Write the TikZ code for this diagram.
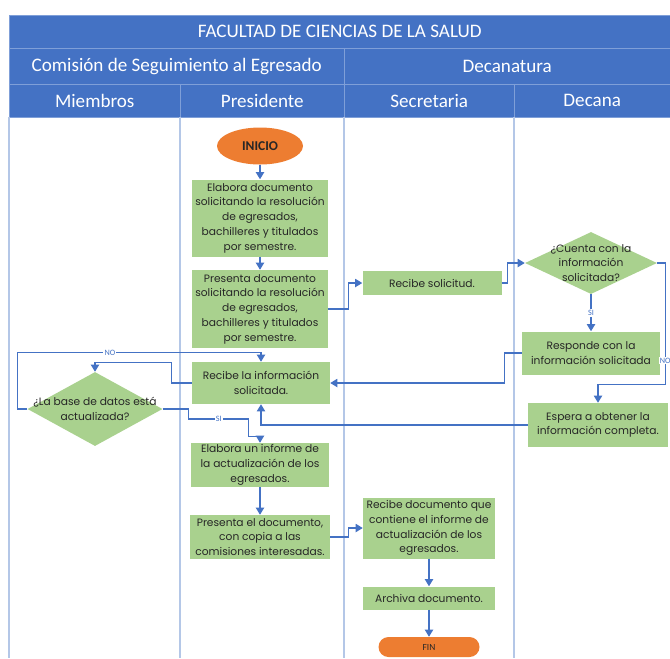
\documentclass[tikz,border=0pt]{standalone}
\usepackage{fontspec}
\setmainfont{Carlito}
\newfontfamily\cajafont{Poppins}
\usetikzlibrary{positioning, arrows.meta, shapes.geometric, calc}
\definecolor{azulcab}{HTML}{4472C4}
\definecolor{bordecab}{HTML}{7F9FD8}
\definecolor{verde}{HTML}{A9D18E}
\definecolor{naranja}{HTML}{ED7D31}
\definecolor{flecha}{HTML}{4472C4}
\definecolor{carril}{HTML}{B4C7E7}
\definecolor{texto}{HTML}{262626}
\tikzset{
cab/.style={draw=bordecab, fill=azulcab, text=white, anchor=north west, inner sep=0pt, font=\fontsize{16.3}{18}\selectfont}, % header cells
tarea/.style={fill=verde, text=texto, align=center, inner sep=1pt, font=\cajafont\fontsize{9.1}{12.6}\selectfont}, % green process boxes
decision/.style={diamond, fill=verde, inner sep=0pt}, % green decision shapes
terminal/.style={fill=naranja, text=texto, inner sep=0pt, font=\bfseries\fontsize{11.5}{12}\selectfont}, % start / end
flujo/.style={draw=flecha, line width=1pt, -{Triangle[width=7pt,length=6pt]}}, % connectors
etiqueta/.style={fill=white, text=flecha, inner sep=1pt, font=\fontsize{7}{8}\selectfont}, % SI / NO
}

\begin{document}
\begin{tikzpicture}[x=0.03cm, y=-0.03cm]
    \useasboundingbox (0,0) rectangle (670,658);
    % swimlane header
    \node[cab, minimum width=19.83cm, minimum height=0.99cm] (fac) at (9,15) {FACULTAD DE CIENCIAS DE LA SALUD};
    \node[cab, minimum width=10.05cm, minimum height=1.08cm] (com) at (9,48) {Comisión de Seguimiento al Egresado};
    \node[cab, minimum width=9.78cm, minimum height=1.08cm] (dec) at (344,48) {Decanatura};
    \node[cab, minimum width=5.13cm, minimum height=0.99cm] (mie) at (9,84) {Miembros};
    \node[cab, minimum width=4.92cm, minimum height=0.99cm] (pre) at (180,84) {Presidente};
    \node[cab, minimum width=5.10cm, minimum height=0.99cm] (sec) at (344,84) {Secretaria};
    \node[cab, minimum width=4.68cm, minimum height=0.99cm] (dca) at (514,84) {Decana};
    \foreach \x in {9,180,344,514}
        \draw[carril, line width=1pt] (\x,117) -- (\x,658);

    % steps
    \node[terminal, ellipse, minimum width=2.58cm, minimum height=1.11cm] (ini) at (260,146) {INICIO};
    \node[tarea, minimum width=4.05cm, minimum height=2.31cm] (b1) at (260,218) {Elabora documento\\solicitando la resolución\\de egresados,\\bachilleres y titulados\\por semestre.};
    \node[tarea, minimum width=4.05cm, minimum height=2.34cm] (b2) at (260,309) {Presenta documento\\solicitando la resolución\\de egresados,\\bachilleres y titulados\\por semestre.};
    \node[tarea, minimum width=4.17cm, minimum height=0.72cm] (rs) at (432,283) {Recibe solicitud.};
    \node[decision, minimum width=3.96cm, minimum height=1.86cm] (dc) at (591,263) {};
    \node[tarea, fill=none] (dct) at (dc.center) {¿Cuenta con la\\información\\solicitada?};
    \node[tarea, minimum width=4.14cm, minimum height=1.29cm] (rp) at (591,353) {Responde con la\\información solicitada};
    \node[tarea, minimum width=4.2cm, minimum height=1.32cm] (es) at (598,425) {Espera a obtener la\\información completa.};
    \node[tarea, minimum width=4.14cm, minimum height=1.26cm] (ri) at (261,383) {Recibe la información\\solicitada.};
    \node[decision, minimum width=4.05cm, minimum height=2.22cm] (dd) at (95,409) {};
    \node[tarea, fill=none] (ddt) at (dd.center) {¿La base de datos está\\actualizada?};
    \node[tarea, minimum width=4.14cm, minimum height=1.32cm] (ei) at (260,465) {Elabora un informe de\\la actualización de los\\egresados.};
    \node[tarea, minimum width=4.2cm, minimum height=1.32cm] (pd) at (260,537) {Presenta el documento,\\con copia a las\\comisiones interesadas.};
    \node[tarea, minimum width=3.96cm, minimum height=1.83cm] (rd) at (429,528) {Recibe documento que\\contiene el informe de\\actualización de los\\egresados.};
    \node[tarea, minimum width=3.96cm, minimum height=0.69cm] (ad) at (429,598) {Archiva documento.};
    \node[terminal, rounded corners=0.3cm, minimum width=3.03cm, minimum height=0.6cm, font=\fontsize{8}{9}\selectfont] (fin) at (429,647) {FIN};

    % connectors
    \draw[flujo] (ini) -- (b1);
    \draw[flujo] (b1) -- (b2);
    \draw[flujo] (b2.east) -- ++(21,0) |- (rs.west);
    \draw[flujo] (rs.east) -- ++(6,0) |- (dc.west);
    \draw[flujo] (dc.south) -- node[etiqueta]{SI} (rp.north);
    \draw[flujo] (dc.east) -- ++(8,0) |- node[etiqueta, pos=0.4]{NO} ($(es.north)+(0,-18)$) -- (es.north);
    \draw[flujo] (rp.west) -- ++(-17,0) |- (ri.east);
    \draw[flujo] (es.west) -| (ri.south);
    \draw[flujo] (ri.west) -- ++(-20,0) |- ($(dd.north)+(0,-9)$) -- (dd.north);
    \draw[flujo] (dd.west) -- ++(-10,0) |- node[etiqueta, pos=0.69]{NO} ($(ri.north)+(0,-9)$) -- (ri.north);
    \draw[flujo] (dd.east) -- ++(26,0) |- node[etiqueta, pos=0.75]{SI} ++(60,10) |- ($(ei.north)+(0,-6)$) -- (ei.north);
    \draw[flujo] (ei) -- (pd);
    \draw[flujo] (pd.east) -- ++(18,0) |- (rd.west);
    \draw[flujo] (rd) -- (ad);
    \draw[flujo] (ad) -- (fin);
\end{tikzpicture}
\end{document}
